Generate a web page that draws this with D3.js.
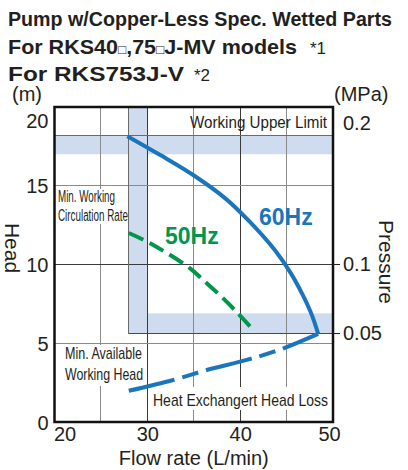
<!DOCTYPE html>
<html>
<head>
<meta charset="utf-8">
<script src="https://cdn.jsdelivr.net/npm/d3@7"></script>
<style>
  body { margin: 0; background: #fff; }
  svg { display: block; }
  text { font-family: "Liberation Sans", Arial, sans-serif; fill: #231f20; }
  .narrow { font-family: "Liberation Sans Narrow", "Liberation Sans", Arial, sans-serif; }
</style>
</head>
<body>
<div id="chart"></div>
<script>
// pump curves: flow rate (L/min) vs head (m)
const flow60 = [27.85, 31.4, 34.9, 38.4, 41.05, 43.75, 45.45, 46.75, 47.75, 48.4];
const head60 = [18.15, 16.95, 15.7, 14.2, 12.7, 10.9, 9.45, 8.05, 6.75, 5.6];
const flow50 = [28.0, 30.3, 34.6, 36.0, 37.8, 39.6, 41.4];
const head50 = [12.0, 11.35, 9.76, 9.02, 8.06, 7.0, 5.85];
const flowLoss = [28.0, 32.8, 36.4, 40.7, 44.3, 48.4];
const headLoss = [1.98, 2.67, 3.3, 3.94, 4.6, 5.6];

const flowTicks = [20, 30, 40, 50];
const flowGrid = [25, 30, 35, 40, 45];
const headTicks = [0, 5, 10, 15, 20];
const headGrid = [5, 10, 15];
const pressureTicks = [0.05, 0.1, 0.2];

// working limits
const minFlowBand = [28, 30];
const minHeadBand = [5.6, 6.9];
const upperBand = [17.0, 18.2];

const width = 408, height = 470;
const blue = '#1b75bc', green = '#00964b', shade = '#cfdcef';

const svg = d3.select('#chart').append('svg')
  .attr('width', width)
  .attr('height', height);

const x = d3.scaleLinear().domain([20, 50]).range([54.5, 333]);
const y = d3.scaleLinear().domain([0, 20]).range([422, 107]);
const yP = d3.scaleLinear().domain([0.05, 0.2]).range([333, 126]);

/* ---------- shaded limit bands ---------- */
const bands = svg.append('g');
bands.append('rect')
  .attr('x', x(20)).attr('width', x(50) - x(20))
  .attr('y', y(upperBand[1])).attr('height', y(upperBand[0]) - y(upperBand[1]))
  .attr('fill', shade);
bands.append('rect')
  .attr('x', x(minFlowBand[0])).attr('width', x(minFlowBand[1]) - x(minFlowBand[0]))
  .attr('y', y(20)).attr('height', y(minHeadBand[0]) - y(20))
  .attr('fill', shade);
bands.append('rect')
  .attr('x', x(minFlowBand[0])).attr('width', x(50) - x(minFlowBand[0]))
  .attr('y', y(minHeadBand[1])).attr('height', y(minHeadBand[0]) - y(minHeadBand[1]))
  .attr('fill', shade);

/* ---------- grid ---------- */
const grid = svg.append('g').attr('shape-rendering', 'crispEdges');
grid.selectAll('.vg').data(flowGrid).enter().append('line')
  .attr('x1', d => x(d)).attr('x2', d => x(d))
  .attr('y1', y(20)).attr('y2', y(0))
  .attr('stroke', d => d % 10 === 0 ? '#3a3a3a' : '#8a8a8a')
  .attr('stroke-width', 1);
grid.selectAll('.hg').data(headGrid).enter().append('line')
  .attr('x1', x(20)).attr('x2', x(50))
  .attr('y1', d => y(d)).attr('y2', d => y(d))
  .attr('stroke', d => d % 10 === 0 ? '#3a3a3a' : '#8a8a8a')
  .attr('stroke-width', 1);
// limit edges
grid.append('line')
  .attr('x1', x(20)).attr('x2', x(50))
  .attr('y1', y(upperBand[1])).attr('y2', y(upperBand[1]))
  .attr('stroke', '#6a6a6a');
grid.append('line')
  .attr('x1', x(minFlowBand[0])).attr('x2', x(minFlowBand[0]))
  .attr('y1', y(20)).attr('y2', y(minHeadBand[0]))
  .attr('stroke', '#6a6a6a');
grid.append('line')
  .attr('x1', x(minFlowBand[0])).attr('x2', x(50))
  .attr('y1', y(minHeadBand[0])).attr('y2', y(minHeadBand[0]))
  .attr('stroke', '#4a4a4a');

/* ---------- in-chart notes ---------- */
function note(lines, x0, y0, lh, size, len, bg) {
  const g = svg.append('g');
  if (bg) {
    g.append('rect').attr('x', bg[0]).attr('y', bg[1]).attr('width', bg[2]).attr('height', bg[3]).attr('fill', '#fff');
  }
  lines.forEach((t, i) => {
    g.append('text').attr('class', 'narrow')
      .attr('x', x0).attr('y', y0 + i * lh)
      .attr('font-size', size)
      .attr('textLength', len[i]).attr('lengthAdjust', 'spacingAndGlyphs')
      .text(t);
  });
}
note(['Working Upper Limit'], 190, 128, 0, 17, [137]);
note(['Min. Working', 'Circulation Rate'], 58, 202, 19, 16, [57, 70], [56, 189, 70, 35]);
note(['Min. Available', 'Working Head'], 65, 359, 21, 17, [77, 78], [61, 345, 85, 41]);
note(['Heat Exchangert Head Loss'], 153, 406, 0, 17, [175], [150, 387, 181, 23]);

/* ---------- curves ---------- */
const line = d3.line()
  .x(d => x(d[0]))
  .y(d => y(d[1]))
  .curve(d3.curveCatmullRom.alpha(0.5));

svg.append('path')
  .datum(flowLoss.map((f, i) => [f, headLoss[i]]))
  .attr('d', line)
  .attr('fill', 'none').attr('stroke', blue).attr('stroke-width', 4)
  .attr('stroke-dasharray', '47,8,17,8');

svg.append('path')
  .datum(flow50.map((f, i) => [f, head50[i]]))
  .attr('d', line)
  .attr('fill', 'none').attr('stroke', green).attr('stroke-width', 4)
  .attr('stroke-dasharray', '16,7');

svg.append('path')
  .datum(flow60.map((f, i) => [f, head60[i]]))
  .attr('d', line)
  .attr('fill', 'none').attr('stroke', blue).attr('stroke-width', 4);

svg.append('text').attr('x', 259).attr('y', 225)
  .attr('font-size', 23).attr('font-weight', 'bold')
  .style('fill', blue).text('60Hz');
svg.append('text').attr('x', 165).attr('y', 244)
  .attr('font-size', 23).attr('font-weight', 'bold')
  .style('fill', green).text('50Hz');

/* ---------- frame and axes ---------- */
svg.append('rect')
  .attr('x', x(20)).attr('y', y(20))
  .attr('width', x(50) - x(20)).attr('height', y(0) - y(20))
  .attr('fill', 'none').attr('stroke', '#111').attr('stroke-width', 2.5);

const yAxis = svg.append('g')
  .attr('transform', 'translate(' + x(20) + ',0)')
  .call(d3.axisLeft(y).tickValues(headTicks).tickSize(0).tickPadding(6));
yAxis.select('.domain').remove();
yAxis.selectAll('text').attr('font-size', 20).attr('font-family', null)
  .attr('dy', d => d === 20 ? '1.0em' : '0.36em');

const xAxis = svg.append('g')
  .attr('transform', 'translate(0,' + y(0) + ')')
  .call(d3.axisBottom(x).tickValues(flowTicks).tickSize(0).tickPadding(5));
xAxis.select('.domain').remove();
xAxis.selectAll('text').attr('font-size', 20).attr('font-family', null)
  .attr('dx', d => d === 20 ? 10 : d === 50 ? -4 : 0);

const pAxis = svg.append('g')
  .attr('transform', 'translate(' + x(50) + ',0)')
  .call(d3.axisRight(yP).tickValues(pressureTicks).tickFormat(d => String(d))
    .tickSize(7).tickPadding(3));
pAxis.select('.domain').remove();
pAxis.selectAll('line').attr('stroke', '#222').attr('stroke-width', 1)
  .attr('opacity', d => d === 0.2 ? 0 : 1);
pAxis.selectAll('text').attr('font-size', 20).attr('font-family', null)
  .attr('dy', d => d === 0.2 ? '0.15em' : '0.32em');

/* ---------- axis titles ---------- */
svg.append('text').attr('x', 12).attr('y', 101).attr('font-size', 20).text('(m)');
svg.append('text').attr('x', 334).attr('y', 101).attr('font-size', 20).text('(MPa)');
svg.append('text').attr('transform', 'translate(5,248) rotate(90)')
  .attr('text-anchor', 'middle').attr('font-size', 21).text('Head');
svg.append('text').attr('transform', 'translate(379,262) rotate(90)')
  .attr('text-anchor', 'middle').attr('font-size', 21).text('Pressure');
svg.append('text').attr('x', x(35)).attr('y', 465)
  .attr('text-anchor', 'middle').attr('font-size', 20).text('Flow rate (L/min)');

/* ---------- titles ---------- */
svg.append('text').attr('x', 8).attr('y', 26)
  .attr('font-size', 19.6).attr('font-weight', 'bold')
  .attr('textLength', 384).attr('lengthAdjust', 'spacingAndGlyphs')
  .text('Pump w/Copper-Less Spec. Wetted Parts');

const t2 = svg.append('text').attr('x', 8).attr('y', 54)
  .attr('font-size', 20.5).attr('font-weight', 'bold')
  .attr('textLength', 289).attr('lengthAdjust', 'spacingAndGlyphs');
t2.append('tspan').text('For RKS40');
t2.append('tspan').attr('font-size', 13).attr('font-weight', 'normal').text('□');
t2.append('tspan').text(',75');
t2.append('tspan').attr('font-size', 13).attr('font-weight', 'normal').text('□');
t2.append('tspan').text('J-MV models');
svg.append('text').attr('x', 310).attr('y', 54)
  .attr('font-size', 17).text('*1');

svg.append('text').attr('x', 8).attr('y', 81)
  .attr('font-size', 21).attr('font-weight', 'bold')
  .attr('textLength', 176).attr('lengthAdjust', 'spacingAndGlyphs')
  .text('For RKS753J-V');
svg.append('text').attr('x', 194).attr('y', 81)
  .attr('font-size', 17).text('*2');
</script>
</body>
</html>
